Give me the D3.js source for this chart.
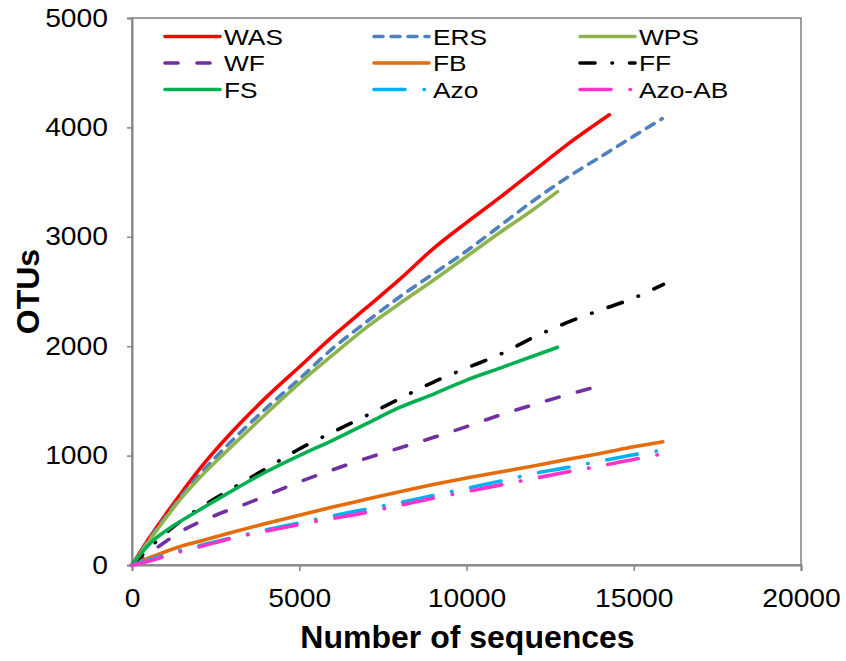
<!DOCTYPE html>
<html><head><meta charset="utf-8">
<script src="https://cdn.jsdelivr.net/npm/d3@7"></script>
<style>body{margin:0;background:#fff;} svg{display:block;} text{font-family:"Liberation Sans",Arial,sans-serif;}</style>
</head><body><svg id="c" width="846" height="661"></svg>
<script>
const seriesNames = ["WAS","ERS","WPS","WF","FB","FF","FS","Azo","Azo-AB"];
const WAS = [[0,0],[500,240],[1000,460],[1500,670],[2000,870],[3000,1220],[4000,1530],[5000,1810],[6000,2090],[7000,2350],[8000,2610],[9000,2890],[10000,3130],[11000,3360],[12000,3600],[13000,3840],[14270,4115]];
const ERS = [[0,0],[500,230],[1000,440],[1500,640],[2000,820],[3000,1140],[4000,1430],[5000,1700],[6000,1980],[7000,2220],[8000,2450],[9000,2660],[10000,2870],[11000,3100],[12000,3330],[13000,3540],[14000,3730],[15000,3920],[15850,4080]];
const WPS = [[0,0],[500,215],[1000,425],[1500,620],[2000,790],[3000,1090],[4000,1380],[5000,1660],[6000,1920],[7000,2170],[8000,2390],[9000,2600],[10000,2820],[11000,3040],[12000,3250],[12720,3413]];
const WF = [[0,0],[700,150],[1600,330],[2500,455],[3500,570],[5000,760],[6000,870],[7000,975],[8000,1070],[9000,1165],[10000,1265],[11000,1370],[12000,1465],[13000,1555],[13900,1630]];
const FB = [[0,0],[600,75],[1400,165],[2000,215],[3000,300],[4000,380],[5000,455],[6000,530],[7000,600],[8000,670],[9000,735],[10000,795],[11000,850],[12000,905],[13000,965],[14000,1020],[15000,1080],[15870,1127]];
const FF = [[0,0],[500,150],[1000,290],[1800,475],[3000,700],[4000,880],[5000,1060],[6000,1215],[7000,1365],[8000,1520],[9000,1670],[10000,1800],[11000,1925],[12000,2080],[13000,2215],[14000,2330],[15000,2440],[15890,2566]];
const FS = [[0,0],[600,215],[1000,310],[2000,500],[3000,680],[4000,850],[5000,1000],[6000,1140],[7000,1290],[8000,1440],[9000,1560],[10000,1690],[11000,1800],[12000,1910],[12720,1990]];
const Azo = [[0,0],[500,45],[1400,130],[2000,175],[3000,250],[4000,320],[5000,385],[6000,450],[7000,510],[8000,570],[9000,635],[10000,700],[11000,765],[12000,835],[13000,890],[14000,950],[15000,1008],[15890,1051]];
const AzoAB = [[0,0],[500,35],[1400,118],[2000,165],[3000,245],[4000,310],[5000,370],[6000,425],[7000,480],[8000,545],[9000,610],[10000,670],[11000,730],[12000,790],[13000,850],[14000,905],[15000,965],[15800,1012]];
const xTicks = [0,5000,10000,15000,20000];
const yTicks = [0,1000,2000,3000,4000,5000];

const data = [WAS,ERS,WPS,WF,FB,FF,FS,Azo,AzoAB];
const styles = [
  {c:"#FF0000", d:null},
  {c:"#4F81BD", d:"9,8"},
  {c:"#8EB44F", d:null},
  {c:"#7030A0", d:"13,19"},
  {c:"#E46C0A", d:null},
  {c:"#000000", d:"15,17,0.5,17"},
  {c:"#00B050", d:null},
  {c:"#00B0F0", d:"31,19,0.5,19"},
  {c:"#FF33CC", d:"31,19,0.5,19"}
];

const L=132, R=801, T=18, B=565;
const svg = d3.select("#c");
const x = d3.scaleLinear().domain([0,20000]).range([L,R]);
const y = d3.scaleLinear().domain([0,5000]).range([B,T]);

function stretch(sel, k){
  sel.each(function(){
    const w = this.getComputedTextLength();
    d3.select(this).attr("textLength", w*k).attr("lengthAdjust","spacingAndGlyphs");
  });
}

svg.append("rect").attr("x",L).attr("y",T).attr("width",R-L).attr("height",B-T)
  .attr("fill","none").attr("stroke","#404040").attr("stroke-width",1);

const xa = svg.append("g").attr("transform",`translate(0,${B})`)
  .call(d3.axisBottom(x).tickValues(xTicks).tickSize(6).tickPadding(18).tickFormat(d3.format("d")));
const ya = svg.append("g").attr("transform",`translate(${L},0)`)
  .call(d3.axisLeft(y).tickValues(yTicks).tickSize(5).tickPadding(19).tickFormat(d3.format("d")));
[xa,ya].forEach(a=>{
  a.selectAll("path").attr("stroke","#868686").attr("stroke-width",2);
  a.selectAll("line").attr("stroke","#868686").attr("stroke-width",1.5);
  a.selectAll("text").attr("font-size",25).attr("fill","#000").attr("font-family","'Liberation Sans',Arial,sans-serif");
  stretch(a.selectAll("text"), 1.13);
});

const line = d3.line().x(d=>x(d[0])).y(d=>y(d[1])).curve(d3.curveMonotoneX);
const g = svg.append("g");
data.forEach((s,i)=>{
  g.append("path").datum(s).attr("d",line).attr("fill","none")
   .attr("stroke",styles[i].c).attr("stroke-width",3.6)
   .attr("stroke-linecap","round").attr("stroke-linejoin","round")
   .attr("stroke-dasharray",styles[i].d);
});

// legend
const colX = [165,374,580], rowY=[36.5,63,89.5];
seriesNames.forEach((n,i)=>{
  const cx = colX[i%3], cy=rowY[Math.floor(i/3)];
  svg.append("line").attr("x1",cx).attr("x2",cx+55).attr("y1",cy).attr("y2",cy)
    .attr("stroke",styles[i].c).attr("stroke-width",3.6).attr("stroke-linecap","round")
    .attr("stroke-dasharray",styles[i].d);
  const t = svg.append("text").attr("x",cx+59).attr("y",cy).attr("dy","0.36em")
    .attr("font-size",22.5).text(n);
  stretch(t, 1.17);
});

svg.append("text").attr("x",(L+R)/2+1).attr("y",648).attr("text-anchor","middle")
  .attr("font-size",32).attr("font-weight","bold").text("Number of sequences");
svg.append("text").attr("transform",`translate(39,${(T+B)/2}) rotate(-90)`).attr("text-anchor","middle")
  .attr("font-size",32).attr("font-weight","bold").text("OTUs");
</script></body></html>
